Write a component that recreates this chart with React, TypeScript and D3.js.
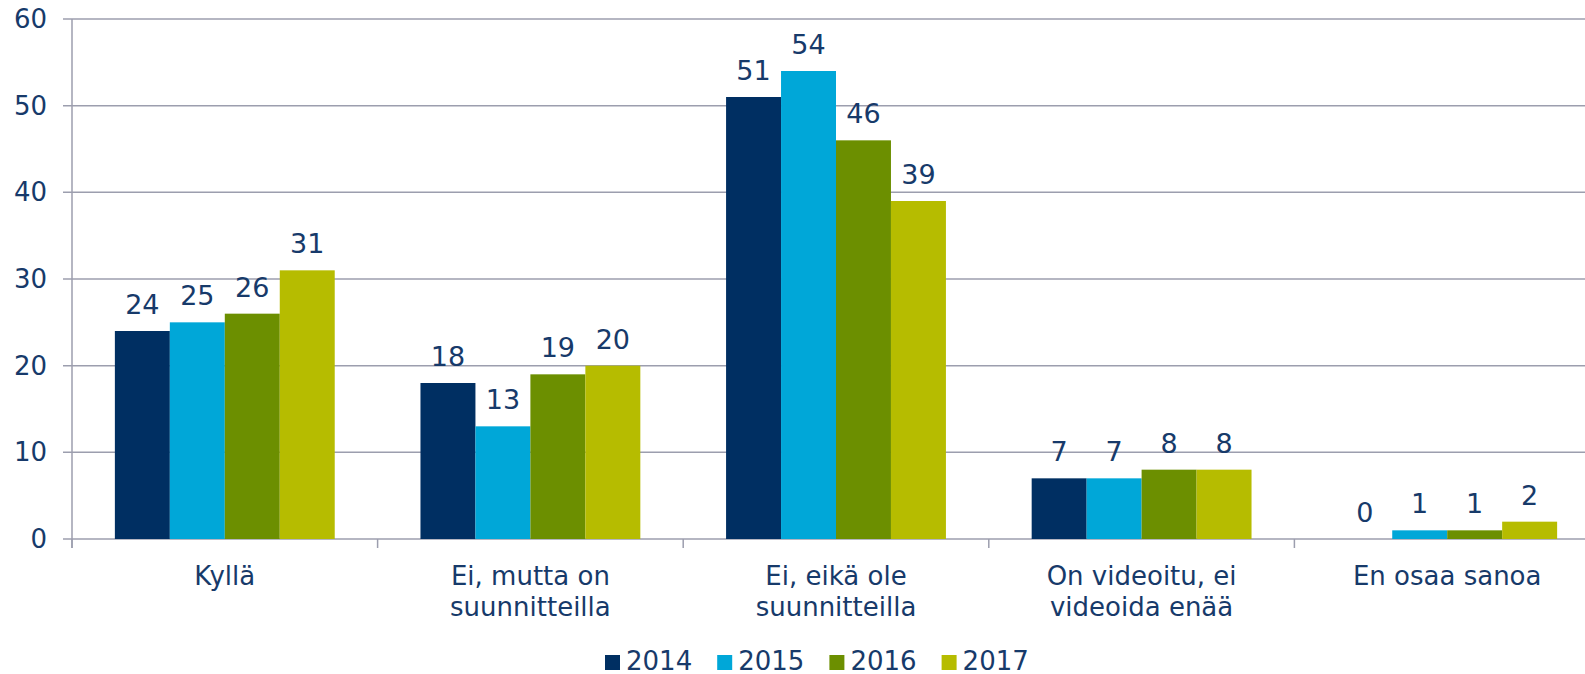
import React from 'react'
import * as d3 from 'd3'

// chart values
const categories = [
  ['Kyllä'],
  ['Ei, mutta on', 'suunnitteilla'],
  ['Ei, eikä ole', 'suunnitteilla'],
  ['On videoitu, ei', 'videoida enää'],
  ['En osaa sanoa'],
]
const years = ['2014', '2015', '2016', '2017']
const values2014 = [24, 18, 51, 7, 0]
const values2015 = [25, 13, 54, 7, 1]
const values2016 = [26, 19, 46, 8, 1]
const values2017 = [31, 20, 39, 8, 2]
const yTicks = [0, 10, 20, 30, 40, 50, 60]

const series = [values2014, values2015, values2016, values2017]
const colors = ['#002f62', '#00a7d8', '#6c8f00', '#b6bc00']

const width = 1585
const height = 674
const font = '"DejaVu Sans", Verdana, sans-serif'
const textColor = '#173a6a'
const gridColor = '#9c9eae'

export default function App() {
  const catKeys = categories.map(c => c.join(' '))

  const x = d3.scaleBand<string>()
    .domain(catKeys)
    .range([72, 72 + 5 * 305.6])

  // bars are ~55px wide inside a ~306px band
  const xYear = d3.scaleBand<string>()
    .domain(years)
    .range([0, x.bandwidth()])
    .paddingOuter(0.78)

  const y = d3.scaleLinear()
    .domain([0, 60])
    .range([539, 19])

  const left = x.range()[0]
  const right = x.range()[1]

  return (
    <svg
      width={width}
      height={height}
      style={{ position: 'absolute', left: 0, top: 0, fontFamily: font }}
    >
      {/* gridlines + y ticks */}
      {yTicks.map(t => (
        <g key={t}>
          <line x1={63} x2={right} y1={y(t)} y2={y(t)} stroke={gridColor} strokeWidth={1.5} />
          <text x={47} y={y(t) + 9} textAnchor="end" fontSize={26} fill={textColor}>{t}</text>
        </g>
      ))}

      {/* y axis */}
      <line x1={left} x2={left} y1={y(60)} y2={548} stroke={gridColor} strokeWidth={1.5} />

      {/* category separators */}
      {catKeys.map(k => (
        <line key={k} x1={x(k)!} x2={x(k)!} y1={y(0)} y2={548}
          stroke={gridColor} strokeWidth={1.5} />
      ))}

      {/* bars */}
      {series.map((vals, si) => (
        <g key={years[si]}>
          {vals.map((v, ci) => {
            const bx = x(catKeys[ci])! + xYear(years[si])!
            return (
              <g key={ci}>
                <rect x={bx} y={y(v)} width={xYear.bandwidth()} height={y(0) - y(v)} fill={colors[si]} />
                <text x={bx + xYear.bandwidth() / 2} y={y(v) - 17} textAnchor="middle"
                  fontSize={27} fill={textColor}>{v}</text>
              </g>
            )
          })}
        </g>
      ))}

      {/* category labels */}
      {categories.map((lines, ci) => (
        <text key={ci} x={x(catKeys[ci])! + x.bandwidth() / 2} textAnchor="middle"
          fontSize={26} fill={textColor}>
          {lines.map((l, li) => (
            <tspan key={li} x={x(catKeys[ci])! + x.bandwidth() / 2} y={585 + li * 31}>{l}</tspan>
          ))}
        </text>
      ))}

      {/* legend */}
      {years.map((yr, i) => (
        <g key={yr} transform={`translate(${605 + i * 112.2},0)`}>
          <rect x={0} y={655} width={15} height={15} fill={colors[i]} />
          <text x={21} y={670} fontSize={26} fill={textColor}>{yr}</text>
        </g>
      ))}
    </svg>
  )
}
